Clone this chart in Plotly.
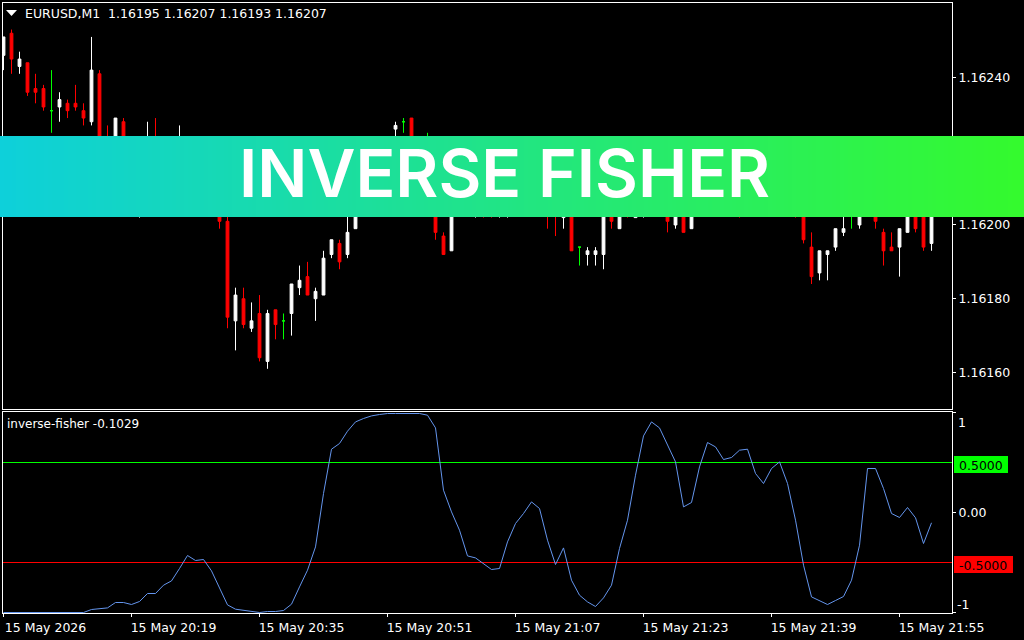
import plotly.graph_objects as go

# prices, one row per 10 candles (M1 bars from 20:03)
opens = [1.16246, 1.16252, 1.16243, 1.16244, 1.16237, 1.16237, 1.16231, 1.16232, 1.16233, 1.16233,
         1.16231, 1.16228, 1.16241, 1.16222, 1.16219, 1.16228, 1.16217, 1.16210, 1.16216, 1.16220,
         1.16212, 1.16210, 1.16215, 1.16220, 1.16214, 1.16210, 1.16214, 1.16209, 1.16201, 1.16174,
         1.16180, 1.16172, 1.16176, 1.16163, 1.16177, 1.16174, 1.16176, 1.16183, 1.16186, 1.16180,
         1.16181, 1.16192, 1.16195, 1.16192, 1.16199, 1.16206, 1.16212, 1.16216, 1.16213, 1.16226,
         1.16228, 1.16229, 1.16215, 1.16212, 1.16212, 1.16197, 1.16193, 1.16208, 1.16211, 1.16207,
         1.16210, 1.16206, 1.16203, 1.16208, 1.16210, 1.16208, 1.16212, 1.16214, 1.16210, 1.16206,
         1.16202, 1.16206, 1.16194, 1.16192, 1.16192, 1.16192, 1.16208, 1.16199, 1.16206, 1.16202,
         1.16206, 1.16210, 1.16207, 1.16212, 1.16200, 1.16208, 1.16199, 1.16208, 1.16206, 1.16216,
         1.16210, 1.16213, 1.16209, 1.16206, 1.16210, 1.16207, 1.16211, 1.16214, 1.16210, 1.16208,
         1.16205, 1.16194, 1.16187, 1.16192, 1.16194, 1.16198, 1.16203, 1.16200, 1.16205, 1.16204,
         1.16198, 1.16194, 1.16194, 1.16198, 1.16206, 1.16204, 1.16195]
highs = [1.16251, 1.16253, 1.16247, 1.16244, 1.16241, 1.16238, 1.16242, 1.16236, 1.16234, 1.16238,
         1.16233, 1.16251, 1.16242, 1.16227, 1.16229, 1.16229, 1.16223, 1.16220, 1.16228, 1.16229,
         1.16222, 1.16220, 1.16227, 1.16224, 1.16218, 1.16218, 1.16220, 1.16212, 1.16203, 1.16183,
         1.16183, 1.16179, 1.16181, 1.16177, 1.16177, 1.16176, 1.16184, 1.16189, 1.16190, 1.16183,
         1.16193, 1.16196, 1.16196, 1.16205, 1.16208, 1.16214, 1.16218, 1.16220, 1.16223, 1.16228,
         1.16229, 1.16229, 1.16220, 1.16225, 1.16215, 1.16198, 1.16210, 1.16212, 1.16214, 1.16213,
         1.16212, 1.16210, 1.16209, 1.16212, 1.16214, 1.16216, 1.16218, 1.16216, 1.16212, 1.16209,
         1.16209, 1.16208, 1.16194, 1.16194, 1.16194, 1.16210, 1.16210, 1.16209, 1.16210, 1.16212,
         1.16214, 1.16214, 1.16215, 1.16214, 1.16210, 1.16210, 1.16210, 1.16212, 1.16224, 1.16224,
         1.16216, 1.16215, 1.16214, 1.16213, 1.16212, 1.16214, 1.16216, 1.16215, 1.16212, 1.16210,
         1.16208, 1.16198, 1.16193, 1.16193, 1.16199, 1.16206, 1.16208, 1.16208, 1.16208, 1.16207,
         1.16199, 1.16198, 1.16199, 1.16208, 1.16208, 1.16206, 1.16207]
lows = [1.16242, 1.16241, 1.16241, 1.16235, 1.16233, 1.16231, 1.16225, 1.16228, 1.16229, 1.16231,
        1.16227, 1.16227, 1.16220, 1.16217, 1.16217, 1.16214, 1.16203, 1.16202, 1.16206, 1.16208,
        1.16206, 1.16205, 1.16208, 1.16210, 1.16207, 1.16206, 1.16205, 1.16199, 1.16172, 1.16166,
        1.16172, 1.16171, 1.16163, 1.16161, 1.16169, 1.16169, 1.16170, 1.16181, 1.16181, 1.16174,
        1.16181, 1.16191, 1.16188, 1.16191, 1.16199, 1.16203, 1.16208, 1.16210, 1.16210, 1.16218,
        1.16225, 1.16212, 1.16208, 1.16206, 1.16196, 1.16192, 1.16193, 1.16204, 1.16205, 1.16202,
        1.16202, 1.16202, 1.16202, 1.16202, 1.16205, 1.16206, 1.16208, 1.16207, 1.16199, 1.16197,
        1.16199, 1.16193, 1.16189, 1.16189, 1.16189, 1.16188, 1.16199, 1.16199, 1.16202, 1.16202,
        1.16202, 1.16205, 1.16205, 1.16198, 1.16199, 1.16198, 1.16199, 1.16204, 1.16204, 1.16207,
        1.16206, 1.16206, 1.16202, 1.16204, 1.16204, 1.16204, 1.16207, 1.16208, 1.16206, 1.16202,
        1.16195, 1.16184, 1.16185, 1.16185, 1.16193, 1.16197, 1.16199, 1.16199, 1.16203, 1.16199,
        1.16189, 1.16193, 1.16186, 1.16198, 1.16198, 1.16193, 1.16193]
closes = [1.16251, 1.16245, 1.16245, 1.16236, 1.16236, 1.16232, 1.16231, 1.16234, 1.16231, 1.16232,
          1.16229, 1.16242, 1.16222, 1.16219, 1.16229, 1.16217, 1.16210, 1.16216, 1.16220, 1.16212,
          1.16210, 1.16215, 1.16220, 1.16214, 1.16210, 1.16214, 1.16209, 1.16201, 1.16175, 1.16181,
          1.16173, 1.16174, 1.16164, 1.16176, 1.16173, 1.16174, 1.16184, 1.16185, 1.16181, 1.16182,
          1.16191, 1.16196, 1.16190, 1.16198, 1.16206, 1.16212, 1.16216, 1.16213, 1.16220, 1.16227,
          1.16228, 1.16215, 1.16210, 1.16212, 1.16198, 1.16192, 1.16208, 1.16211, 1.16207, 1.16210,
          1.16206, 1.16203, 1.16208, 1.16210, 1.16208, 1.16212, 1.16214, 1.16210, 1.16206, 1.16204,
          1.16206, 1.16193, 1.16194, 1.16193, 1.16193, 1.16208, 1.16201, 1.16206, 1.16204, 1.16208,
          1.16210, 1.16207, 1.16212, 1.16201, 1.16208, 1.16198, 1.16208, 1.16206, 1.16216, 1.16210,
          1.16213, 1.16209, 1.16206, 1.16210, 1.16207, 1.16211, 1.16214, 1.16210, 1.16208, 1.16205,
          1.16196, 1.16186, 1.16193, 1.16193, 1.16199, 1.16199, 1.16203, 1.16205, 1.16203, 1.16201,
          1.16193, 1.16193, 1.16199, 1.16206, 1.16199, 1.16194, 1.16207]

fisher = [-1.0, -1.0, -1.0, -1.0, -1.0, -1.0, -1.0, -1.0, -1.0, -1.0,
          -1.0, -0.97, -0.96, -0.954, -0.90, -0.90, -0.92, -0.89, -0.81, -0.81,
          -0.727, -0.684, -0.56, -0.43, -0.48, -0.47, -0.584, -0.76, -0.924, -0.967,
          -0.98, -0.99, -1.0, -0.99, -0.99, -0.98, -0.917, -0.744, -0.577, -0.344,
          0.19, 0.633, 0.69, 0.813, 0.906, 0.94, 0.966, 0.98, 0.99, 0.99,
          0.99, 0.99, 0.99, 0.973, 0.846, 0.223, 0.006, -0.177, -0.434, -0.454,
          -0.51, -0.57, -0.56, -0.294, -0.11, -0.01, 0.106, 0.04, -0.277, -0.52,
          -0.354, -0.677, -0.827, -0.894, -0.94, -0.854, -0.727, -0.36, -0.077, 0.373,
          0.766, 0.906, 0.846, 0.68, 0.506, 0.056, 0.10, 0.456, 0.70, 0.656,
          0.53, 0.55, 0.623, 0.633, 0.39, 0.29, 0.44, 0.506, 0.29, -0.077,
          -0.527, -0.844, -0.884, -0.92, -0.88, -0.84, -0.677, -0.327, 0.44, 0.44,
          0.24, -0.01, -0.05, 0.05, -0.053, -0.31, -0.1029]

time_ticks = [0, 16, 32, 48, 64, 80, 96, 112]
time_labels = ['15 May 2026', '15 May 20:19', '15 May 20:35', '15 May 20:51',
               '15 May 21:07', '15 May 21:23', '15 May 21:39', '15 May 21:55']
price_ticks = [1.16160, 1.16180, 1.16200, 1.16220, 1.16240]
upper_level = 0.5
lower_level = -0.5

FONT = 'DejaVu Sans'
WHITE = '#ffffff'
UP, DOWN, FLAT = '#ffffff', '#ff0000', '#00ff00'
LINE_BLUE = '#6495ed'
X_RANGE = [-0.0625, 118.56]


# page pixels to paper coords, plot area runs x 3-952 and y 3-613
def px(x):
    return (x - 3) / 949


def py(y):
    return (613 - y) / 610


def candle_trace(idx, color):
    return go.Candlestick(
        x=idx,
        open=[opens[i] for i in idx], high=[highs[i] for i in idx],
        low=[lows[i] for i in idx], close=[closes[i] for i in idx],
        increasing=dict(line=dict(color=color, width=1), fillcolor=color),
        decreasing=dict(line=dict(color=color, width=1), fillcolor=color),
        whiskerwidth=0, xaxis='x', yaxis='y', showlegend=False)


bars = range(len(opens))
fig = go.Figure()
fig.add_trace(candle_trace([i for i in bars if closes[i] > opens[i]], UP))
fig.add_trace(candle_trace([i for i in bars if closes[i] < opens[i]], DOWN))
fig.add_trace(candle_trace([i for i in bars if closes[i] == opens[i]], FLAT))

# indicator panel
fig.add_trace(go.Scatter(x=X_RANGE, y=[upper_level, upper_level], mode='lines', xaxis='x2', yaxis='y2',
                         line=dict(color='#00ff00', width=1), showlegend=False))
fig.add_trace(go.Scatter(x=X_RANGE, y=[lower_level, lower_level], mode='lines', xaxis='x2', yaxis='y2',
                         line=dict(color='#ff0000', width=1), showlegend=False))
fig.add_trace(go.Scatter(x=list(bars), y=fisher, mode='lines', xaxis='x2', yaxis='y2',
                         line=dict(color=LINE_BLUE, width=1), showlegend=False))

# banner gradient, drawn as thin strips since shapes have no gradient fill
left_rgb = (14, 208, 218)
right_rgb = (52, 250, 45)
shapes = []
for k in range(256):
    t = k / 255
    rgb = [round(a + (b - a) * t) for a, b in zip(left_rgb, right_rgb)]
    shapes.append(dict(type='rect', xref='paper', yref='paper', layer='above',
                       x0=px(k * 4), x1=px(k * 4 + 4.5), y0=py(217), y1=py(136),
                       line=dict(width=0), fillcolor='rgb(%d,%d,%d)' % tuple(rgb)))
# value tags at the right of the levels
shapes.append(dict(type='rect', xref='paper', yref='paper', x0=px(954), x1=px(1008), y0=py(473), y1=py(456),
                   line=dict(width=0), fillcolor='#00ff00'))
shapes.append(dict(type='rect', xref='paper', yref='paper', x0=px(954), x1=px(1013), y0=py(573), y1=py(556),
                   line=dict(width=0), fillcolor='#ff0000'))
# small menu triangle next to the symbol
shapes.append(dict(type='path', xref='paper', yref='paper', line=dict(width=0), fillcolor=WHITE,
                   path='M %f %f L %f %f L %f %f Z' % (px(6), py(10), px(17), py(10), px(11.5), py(16))))


def label(x, y, text, color=WHITE, size=12.5, anchor='left', weight=None, family=FONT):
    return dict(x=px(x), y=py(y), xref='paper', yref='paper', text=text, showarrow=False,
                xanchor=anchor, yanchor='middle', font=dict(family=family, size=size, color=color, weight=weight))


annotations = [
    label(504.5, 173.5, 'INVERSE FISHER', size=66, anchor='center', weight=600, family='Inter'),
    label(23, 14, 'EURUSD,M1  1.16195 1.16207 1.16193 1.16207'),
    label(5, 424, 'inverse-fisher -0.1029', size=12),
    label(956, 422, '1'),
    label(955, 604, '-1'),
    label(957, 465, '0.5000', color='#000000'),
    label(957, 565, '-0.5000', color='#000000'),
]

axis_common = dict(showline=True, linecolor=WHITE, linewidth=1, mirror=True, showgrid=False, zeroline=False,
                   tickcolor=WHITE, tickfont=dict(family=FONT, size=12.5, color=WHITE))

fig.update_layout(
    width=1024, height=640, margin=dict(l=3, r=72, t=3, b=27),
    paper_bgcolor='#000000', plot_bgcolor='#000000',
    boxgap=0.5, showlegend=False, shapes=shapes, annotations=annotations,
    xaxis=dict(axis_common, domain=[0, 1], range=X_RANGE, anchor='y', ticks='', showticklabels=False,
               rangeslider=dict(visible=False)),
    yaxis=dict(axis_common, domain=[py(409), 1], range=[1.161501, 1.162602], side='right', anchor='x',
               tickvals=price_ticks, tickformat='.5f', ticks='outside', ticklen=3),
    xaxis2=dict(axis_common, domain=[0, 1], range=X_RANGE, anchor='y2', ticks='outside', ticklen=3,
                tickvals=time_ticks, ticktext=time_labels, ticklabelshift=42, tickangle=0),
    yaxis2=dict(axis_common, domain=[0, py(412)], range=[-1.005, 1.005], side='right', anchor='x2',
                tickvals=[1, 0, -1], ticktext=['', '0.00', ''], ticks='outside', ticklen=3),
)

fig.write_html("out.html", config=dict(displayModeBar=False), post_script="document.body.style.margin='0';")
